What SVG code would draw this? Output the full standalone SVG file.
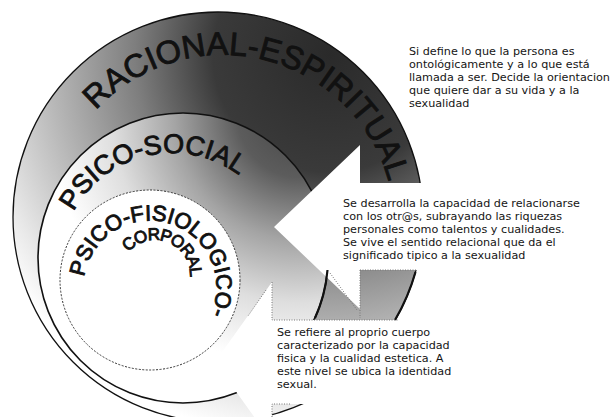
<svg xmlns="http://www.w3.org/2000/svg" width="613" height="417" viewBox="0 0 613 417">
<style>
.lbl{font-family:"Liberation Sans",Arial,sans-serif;fill:#111;stroke:#111;stroke-width:0.9}
.desc{font-family:"DejaVu Sans",Verdana,sans-serif;font-size:11.2px;fill:#151515}
.arrow{fill:#fff;stroke:none}
.dot{fill:none;stroke:#777;stroke-width:1;stroke-dasharray:1 1.5}
.edge{fill:none;stroke:#111;stroke-width:2.2}
</style>
<defs>
<radialGradient id="gOuter" gradientUnits="userSpaceOnUse" cx="330" cy="55" r="390">
<stop offset="0" stop-color="#2a2a2a"/>
<stop offset="0.3" stop-color="#3a3a3a"/>
<stop offset="0.5" stop-color="#7e7e7e"/>
<stop offset="0.72" stop-color="#b8b8b8"/>
<stop offset="0.9" stop-color="#e8e8e8"/>
<stop offset="1" stop-color="#ffffff"/>
</radialGradient>
<radialGradient id="gMid" gradientUnits="userSpaceOnUse" cx="300" cy="115" r="250">
<stop offset="0" stop-color="#454545"/>
<stop offset="0.25" stop-color="#5c5c5c"/>
<stop offset="0.5" stop-color="#a4a4a4"/>
<stop offset="0.75" stop-color="#dedede"/>
<stop offset="1" stop-color="#ffffff"/>
</radialGradient>
<path id="pRac" d="M96,110.5 A172,172 0 0 1 391.4,260.2"/>
<path id="pSoc" d="M73.5,211.7 A112,112 0 0 1 277.2,226.7"/>
<path id="pFis" d="M84.3,276.9 A66.5,66.5 0 1 1 183.3,344.6"/>
<path id="pCor" d="M128.4,252.3 A35,35 0 0 1 187.9,287"/>
</defs>

<g id="ring-racional-espiritual">
<circle cx="218" cy="217" r="205" fill="url(#gOuter)" stroke="#111" stroke-width="1.3"/>
<text class="lbl" font-size="32.5"><textPath href="#pRac">RACIONAL-ESPIRITUAL</textPath></text>
</g>

<g id="ring-psico-social">
<circle cx="183" cy="258" r="145" fill="url(#gMid)" stroke="#111" stroke-width="1.6"/>
<text class="lbl" font-size="27"><textPath href="#pSoc">PSICO-SOCIAL</textPath></text>
</g>

<g id="ring-psico-fisiologico">
<circle cx="150" cy="280" r="90" fill="#fff" stroke="#333" stroke-width="1" stroke-dasharray="2 1.5"/>
<text class="lbl" font-size="22"><textPath href="#pFis">PSICO-FISIOLOGICO-</textPath></text>
<text class="lbl" font-size="17" letter-spacing="-1.2"><textPath href="#pCor">CORPORAL</textPath></text>
</g>

<g id="connectors">
<polygon class="arrow" points="274,227 360,145 360,183 613,183 613,270 360,270 360,309"/>
<polygon class="arrow" points="215,362 272,282 272,320 613,320 613,404 272,404 272,442"/>
<path class="edge" d="M327.5,270 A145,145 0 0 1 315,318"/>
<path class="edge" d="M415.5,272 A205,205 0 0 1 395,320"/>
<path class="dot" d="M360,270 H416 M360,270 V318 M330,273 L357,310"/>
<path class="dot" d="M272,282 V320 H398 M272,417 V404 H290 M266,290 L248,316"/>
</g>

<g id="desc-racional-espiritual">
<text class="desc" x="409" y="55">Si define lo que la persona es</text>
<text class="desc" x="409" y="68">ontológicamente y a lo que está</text>
<text class="desc" x="409" y="81">llamada a ser. Decide la orientacion</text>
<text class="desc" x="409" y="94">que quiere dar a su vida y a la</text>
<text class="desc" x="409" y="107">sexualidad</text>
</g>

<g id="desc-psico-social">
<text class="desc" x="343" y="207">Se desarrolla la capacidad de relacionarse</text>
<text class="desc" x="343" y="220">con los otr@s, subrayando las riquezas</text>
<text class="desc" x="343" y="233">personales como talentos y cualidades.</text>
<text class="desc" x="343" y="246">Se vive el sentido relacional que da el</text>
<text class="desc" x="343" y="259">significado tipico a la sexualidad</text>
</g>

<g id="desc-psico-fisiologico">
<text class="desc" x="277" y="336">Se refiere al proprio cuerpo</text>
<text class="desc" x="277" y="349">caracterizado por la capacidad</text>
<text class="desc" x="277" y="362">fisica y la cualidad estetica. A</text>
<text class="desc" x="277" y="375">este nivel se ubica la identidad</text>
<text class="desc" x="277" y="388">sexual.</text>
</g>
</svg>
